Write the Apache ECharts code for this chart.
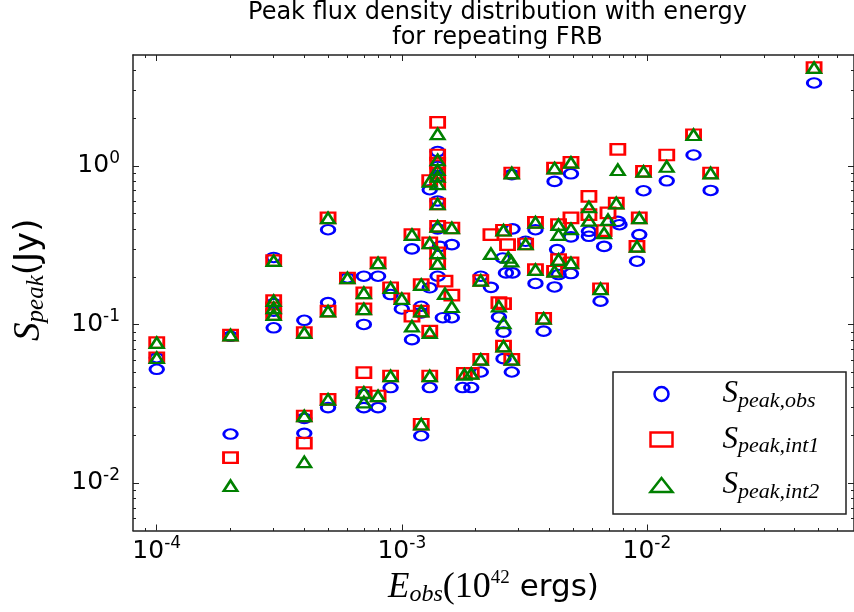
<!DOCTYPE html>
<html><head><meta charset="utf-8">
<script src="https://cdn.jsdelivr.net/npm/echarts@6/dist/echarts.min.js"></script>
<style>html,body{margin:0;padding:0;background:#fff}#c{width:854px;height:612px}</style>
</head><body><div id="c"></div>
<script>
// ---- data ----
const titleLines = ['Peak flux density distribution with energy', 'for repeating FRB'];
const xTickLabels = [1e-4, 1e-3, 1e-2];
const yTickLabels = [1e-2, 1e-1, 1];
const seriesNames = ['obs', 'int1', 'int2'];

// [E_obs (1e42 erg), S_peak (Jy)]
const sObs = [
  [1e-4,0.052],[1e-4,0.0615],[2e-4,0.084],[2e-4,0.0203],
  [3e-4,0.264],[3e-4,0.135],[3e-4,0.121],[3e-4,0.095],
  [4e-4,0.106],[4e-4,0.0255],[4e-4,0.0205],
  [5e-4,0.395],[5e-4,0.137],[5e-4,0.0298],[6e-4,0.196],
  [7e-4,0.201],[7e-4,0.0998],[7e-4,0.0298],[7e-4,0.036],
  [8e-4,0.201],[8e-4,0.0298],[9e-4,0.154],[9e-4,0.0399],[1e-3,0.125],
  [1.1e-3,0.299],[1.1e-3,0.080],[1.2e-3,0.13],[1.2e-3,0.118],[1.2e-3,0.0198],
  [1.3e-3,0.706],[1.3e-3,0.17],[1.3e-3,0.0399],[1.43e-3,0.31],
  [1.4e-3,1.23],[1.4e-3,0.99],[1.4e-3,0.85],[1.4e-3,0.60],[1.4e-3,0.40],[1.4e-3,0.201],
  [1.47e-3,0.11],[1.6e-3,0.318],[1.6e-3,0.11],[1.77e-3,0.0399],[1.92e-3,0.0399],
  [2.1e-3,0.201],[2.1e-3,0.050],[2.31e-3,0.171],[2.49e-3,0.111],[2.6e-3,0.0893],[2.6e-3,0.0607],
  [2.58e-3,0.262],[2.66e-3,0.211],[2.83e-3,0.211],[2.83e-3,0.40],[2.81e-3,0.05],[2.81e-3,0.88],
  [3.2e-3,0.334],[3.51e-3,0.395],[3.51e-3,0.181],[3.79e-3,0.0905],
  [4.2e-3,0.797],[4.2e-3,0.172],[4.3e-3,0.296],[4.36e-3,0.206],
  [4.9e-3,0.89],[4.9e-3,0.356],[4.9e-3,0.209],[5.8e-3,0.386],[5.8e-3,0.359],
  [6.47e-3,0.14],[6.69e-3,0.31],[7.61e-3,0.446],[7.73e-3,0.425],
  [9.31e-3,0.368],[9.11e-3,0.25],[9.69e-3,0.696],
  [0.01205,0.804],[0.0155,1.17],[0.0182,0.699],[0.0481,3.33]
];
const sInt1 = [
  [1e-4,0.0766],[1e-4,0.0615],[2e-4,0.0855],[2e-4,0.0144],
  [3e-4,0.252],[3e-4,0.141],[3e-4,0.127],[3e-4,0.115],
  [4e-4,0.0885],[4e-4,0.0264],[4e-4,0.0178],
  [5e-4,0.469],[5e-4,0.121],[5e-4,0.0336],[6e-4,0.196],
  [7e-4,0.158],[7e-4,0.125],[7e-4,0.0495],[7e-4,0.0371],
  [8e-4,0.244],[8e-4,0.0353],[9e-4,0.17],[9e-4,0.0472],[1e-3,0.145],
  [1.1e-3,0.368],[1.1e-3,0.1125],[1.2e-3,0.178],[1.2e-3,0.121],[1.2e-3,0.0234],
  [1.3e-3,0.808],[1.3e-3,0.326],[1.3e-3,0.0905],[1.3e-3,0.0472],
  [1.4e-3,1.88],[1.4e-3,1.17],[1.4e-3,1.04],[1.4e-3,0.90],[1.4e-3,0.77],
  [1.4e-3,0.574],[1.4e-3,0.415],[1.4e-3,0.282],[1.4e-3,0.2415],
  [1.5e-3,0.187],[1.6e-3,0.405],[1.6e-3,0.1527],[1.8e-3,0.049],[1.92e-3,0.049],
  [2.1e-3,0.189],[2.1e-3,0.060],[2.31e-3,0.368],[2.49e-3,0.137],[2.6e-3,0.135],
  [2.6e-3,0.0728],[2.6e-3,0.392],[2.7e-3,0.318],[2.81e-3,0.90],[2.81e-3,0.060],
  [3.2e-3,0.321],[3.51e-3,0.44],[3.51e-3,0.221],[3.79e-3,0.109],
  [4.2e-3,0.967],[4.2e-3,0.216],[4.36e-3,0.425],[4.36e-3,0.256],
  [4.9e-3,1.05],[4.9e-3,0.469],[4.9e-3,0.244],[5.8e-3,0.641],[5.8e-3,0.492],
  [6.47e-3,0.1675],[6.69e-3,0.39],[6.94e-3,0.504],[7.5e-3,0.582],[7.61e-3,1.27],
  [9.31e-3,0.469],[9.11e-3,0.31],[9.69e-3,0.921],
  [0.01205,1.17],[0.0155,1.57],[0.0182,0.90],[0.0481,4.16]
];
const sInt2 = [
  [1e-4,0.0766],[1e-4,0.0615],[2e-4,0.0855],[2e-4,0.00958],
  [3e-4,0.252],[3e-4,0.141],[3e-4,0.127],[3e-4,0.115],
  [4e-4,0.0885],[4e-4,0.0264],[4e-4,0.01355],
  [5e-4,0.469],[5e-4,0.121],[5e-4,0.0336],[6e-4,0.196],
  [7e-4,0.158],[7e-4,0.125],[7e-4,0.0371],[7e-4,0.0323],
  [8e-4,0.244],[8e-4,0.0353],[9e-4,0.17],[9e-4,0.0472],[1e-3,0.145],
  [1.1e-3,0.368],[1.1e-3,0.0973],[1.2e-3,0.178],[1.2e-3,0.121],[1.2e-3,0.0234],
  [1.3e-3,0.797],[1.3e-3,0.326],[1.3e-3,0.0885],[1.3e-3,0.0472],
  [1.4e-3,1.59],[1.4e-3,1.09],[1.4e-3,0.944],[1.4e-3,0.856],[1.4e-3,0.77],
  [1.4e-3,0.574],[1.4e-3,0.415],[1.4e-3,0.282],[1.4e-3,0.2415],
  [1.5e-3,0.156],[1.6e-3,0.405],[1.6e-3,0.129],[1.8e-3,0.0483],[1.92e-3,0.049],
  [2.1e-3,0.189],[2.1e-3,0.060],[2.31e-3,0.279],[2.49e-3,0.130],[2.6e-3,0.102],
  [2.6e-3,0.0728],[2.6e-3,0.392],[2.72e-3,0.264],[2.8e-3,0.25],[2.81e-3,0.90],[2.81e-3,0.060],
  [3.2e-3,0.321],[3.51e-3,0.44],[3.51e-3,0.221],[3.79e-3,0.109],
  [4.2e-3,0.967],[4.2e-3,0.216],[4.36e-3,0.425],[4.36e-3,0.368],[4.36e-3,0.256],
  [4.9e-3,1.05],[4.9e-3,0.40],[4.9e-3,0.244],[5.8e-3,0.55],[5.8e-3,0.453],
  [6.47e-3,0.1675],[6.69e-3,0.377],[6.94e-3,0.457],[7.5e-3,0.582],[7.61e-3,0.944],
  [9.31e-3,0.469],[9.11e-3,0.31],[9.69e-3,0.921],
  [0.01205,0.99],[0.0155,1.57],[0.0182,0.90],[0.0481,4.16]
];

// ---- chart ----
const X_MIN = 8e-5, X_MAX = 0.07, Y_MIN = 0.005, Y_MAX = 5;
const AX = '#222';
function minorTicks(lo, hi) {
  const out = [];
  for (let e = -6; e <= 2; e++) for (let m = 2; m <= 9; m++) {
    const v = parseFloat((m * Math.pow(10, e)).toPrecision(6));
    if (v > lo && v < hi) out.push(v);
  }
  return out;
}
const labelRich = {
  b: {fontFamily: 'DejaVu Sans', fontSize: 25, lineHeight: 28, color: '#000'},
  s: {fontFamily: 'DejaVu Sans', fontSize: 17, lineHeight: 19, padding: [0, 0, 15, 0], color: '#000'}
};
const fmtPow = v => '{b|10}{s|' + Math.round(Math.log10(v)) + '}';

function makeAxis(kind, grid, pos, ticks, len, showLine, labels) {
  const isX = kind === 'x';
  return {
    type: 'log', logBase: 10, gridIndex: grid, position: pos,
    min: isX ? X_MIN : Y_MIN, max: isX ? X_MAX : Y_MAX,
    axisLine: {show: showLine, onZero: false, lineStyle: {color: AX, width: 1.5}},
    axisTick: {show: true, inside: true, length: len, customValues: ticks, lineStyle: {color: AX, width: 1}},
    axisLabel: labels ? {show: true, customValues: labels, formatter: fmtPow, rich: labelRich, margin: isX ? 7 : 13} : {show: false},
    splitLine: {show: false}, minorTick: {show: false}, minorSplitLine: {show: false}
  };
}
const xMinor = minorTicks(X_MIN, X_MAX), yMinor = minorTicks(Y_MIN, Y_MAX);
const serif = 'Liberation Serif';

const xAxes = [
  makeAxis('x', 0, 'bottom', xTickLabels, 6, true, xTickLabels),
  makeAxis('x', 0, 'top', xTickLabels, 6, true, null),
  makeAxis('x', 1, 'bottom', xMinor, 3, false, null),
  makeAxis('x', 1, 'top', xMinor, 3, false, null)
];
Object.assign(xAxes[0], {
  name: '{E|E}{sub|obs}{m|(10}{sup|42}{t| ergs)}', nameLocation: 'middle', nameGap: 38, nameMoveOverlap: false,
  nameTextStyle: {rich: {
    E: {fontFamily: serif, fontStyle: 'italic', fontSize: 35, lineHeight: 38, color: '#000'},
    sub: {fontFamily: serif, fontStyle: 'italic', fontSize: 24, lineHeight: 25, padding: [15, 0, 0, 0], color: '#000'},
    m: {fontFamily: serif, fontSize: 36, lineHeight: 38, color: '#000'},
    sup: {fontFamily: serif, fontSize: 19, lineHeight: 20, padding: [0, 0, 18, 0], color: '#000'},
    t: {fontFamily: 'DejaVu Sans', fontSize: 31, lineHeight: 38, color: '#000'}
  }}
});
const yAxes = [
  makeAxis('y', 0, 'left', yTickLabels, 6, true, yTickLabels),
  makeAxis('y', 0, 'right', yTickLabels, 6, true, null),
  makeAxis('y', 1, 'left', yMinor, 3, false, null),
  makeAxis('y', 1, 'right', yMinor, 3, false, null)
];
Object.assign(yAxes[0], {
  name: '{g|}{S|S}{sub|peak}{t|(Jy)}', nameLocation: 'middle', nameGap: 85, nameRotate: 90, nameMoveOverlap: false,
  nameTextStyle: {rich: {
    g: {width: 26},
    S: {fontFamily: serif, fontStyle: 'italic', fontSize: 37, lineHeight: 38, color: '#000'},
    sub: {fontFamily: serif, fontStyle: 'italic', fontSize: 25, lineHeight: 26, padding: [15, 0, 0, 0], color: '#000'},
    t: {fontFamily: 'DejaVu Sans', fontSize: 34, lineHeight: 38, color: '#000'}
  }}
});

const colors = ['#0000ff', '#ff0000', '#008000'];
const symbols = ['circle', 'rect', 'triangle'];
const sizes = [[13.5, 9.5], [14, 10.5], [13.5, 10.5]];
const datas = [sObs, sInt1, sInt2];

const plotCenter = 133 + (854 + 8 - 133) / 2;

const chart = echarts.init(document.getElementById('c'), null, {renderer: 'canvas'});
chart.setOption({
  animation: false,
  backgroundColor: '#fff',
  title: {
    text: titleLines.join('\n'), left: plotCenter, top: 0, padding: 0, textAlign: 'center',
    textStyle: {fontFamily: 'DejaVu Sans', fontWeight: 'normal', fontSize: 24, lineHeight: 25, color: '#000'}
  },
  grid: [
    {left: 133, right: -8, top: 55, bottom: 81, containLabel: false},
    {left: 133, right: -8, top: 55, bottom: 81, containLabel: false}
  ],
  xAxis: xAxes,
  yAxis: yAxes,
  legend: {
    orient: 'vertical', left: 613, top: 372, padding: [4, 12, 11, 35], itemGap: 9.5,
    itemWidth: 22, itemHeight: 14, backgroundColor: '#fff', borderColor: AX, borderWidth: 1.5,
    itemStyle: {borderWidth: 2.5},
    selectedMode: false, data: seriesNames,
    formatter: n => '{sp|}{S|S}{sub|peak,' + n + '}',
    textStyle: {color: '#000', rich: {
      sp: {width: 45},
      S: {fontFamily: serif, fontStyle: 'italic', fontSize: 31, lineHeight: 36, color: '#000'},
      sub: {fontFamily: serif, fontStyle: 'italic', fontSize: 22, lineHeight: 23, padding: [14, 0, 0, 0], width: 96, color: '#000'}
    }}
  },
  series: seriesNames.map((n, i) => ({
    type: 'scatter', name: n, xAxisIndex: 0, yAxisIndex: 0, data: datas[i],
    symbol: symbols[i], symbolSize: sizes[i], z: 2 + i,
    itemStyle: {color: 'none', borderColor: colors[i], borderWidth: 2.5, opacity: 1},
    emphasis: {disabled: true}
  }))
});
</script></body></html>
